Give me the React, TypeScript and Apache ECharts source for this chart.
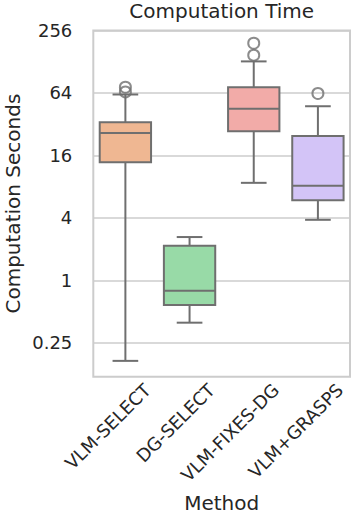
import React, { useEffect, useRef } from "react";
import * as echarts from "echarts";

const categories = ["VLM-SELECT", "DG-SELECT", "VLM-FIXES-DG", "VLM+GRASPS"];
// seconds
const lowWhisker = [0.168, 0.392, 8.72, 3.84];
const q1 = [13.8, 0.58, 27.4, 5.94];
const median = [26.4, 0.796, 45, 8.16];
const q3 = [33.5, 2.16, 72.7, 24.6];
const highWhisker = [61.9, 2.62, 129, 47.7];
const outliers: number[][] = [[72.7, 65.5], [], [193, 148], [63.3]];
const yTickValues = [0.25, 1, 4, 16, 64, 256];
const boxColors = ["#efb792", "#98daa7", "#f2aba8", "#d3c4f7"];

const EDGE = "#6f6f6f";
const TEXT = "#262626";
const FONT = "DejaVu Sans";

export default function App() {
  const ref = useRef<HTMLDivElement>(null);
  useEffect(() => {
    if (!ref.current) return;
    const chart = echarts.init(ref.current, undefined, { renderer: "svg" });
    const boxData = categories.map((_, i) => [
      i,
      Math.log2(lowWhisker[i]),
      Math.log2(q1[i]),
      Math.log2(median[i]),
      Math.log2(q3[i]),
      Math.log2(highWhisker[i]),
    ]);
    const outlierData: number[][] = [];
    outliers.forEach((arr, i) => arr.forEach((v) => outlierData.push([i, Math.log2(v)])));
    const tickLogs = yTickValues.map((v) => Math.log2(v));

    chart.setOption({
      animation: false,
      backgroundColor: "#ffffff",
      textStyle: { fontFamily: FONT },
      title: {
        text: "Computation Time",
        left: 221.7,
        textAlign: "center",
        top: 1,
        padding: 0,
        textStyle: { fontFamily: FONT, fontSize: 20, fontWeight: "normal", color: TEXT },
      },
      grid: {
        left: 93.3,
        right: 5,
        top: 30.5,
        bottom: 139.3,
        show: true,
        borderColor: "#cccccc",
        borderWidth: 2,
        backgroundColor: "#ffffff",
        containLabel: false,
        outerBoundsMode: "none",
      },
      xAxis: {
        type: "category",
        data: categories,
        boundaryGap: true,
        axisLine: { show: false },
        axisTick: { show: false },
        splitLine: { show: false },
        name: "Method",
        nameLocation: "middle",
        nameGap: 116,
        nameMoveOverlap: false,
        nameTextStyle: { fontFamily: FONT, fontSize: 20, color: TEXT },
        axisLabel: {
          interval: 0,
          rotate: 45,
          margin: 32,
          padding: [0, -31, 0, 0],
          fontFamily: FONT,
          fontSize: 18,
          color: TEXT,
        },
      },
      yAxis: {
        type: "value",
        min: -3.08,
        max: 8,
        axisLine: { show: false },
        axisTick: { show: false, customValues: tickLogs },
        splitLine: { show: true, lineStyle: { color: "#cccccc", width: 1.6 } },
        name: "Computation Seconds",
        nameLocation: "middle",
        nameGap: 70,
        nameRotate: 90,
        nameMoveOverlap: false,
        nameTextStyle: { fontFamily: FONT, fontSize: 20, color: TEXT },
        axisLabel: {
          customValues: tickLogs,
          margin: 21,
          fontFamily: FONT,
          fontSize: 18,
          color: TEXT,
          formatter: (v: number) => String(Math.round(Math.pow(2, v) * 100) / 100),
        },
      },
      series: [
        {
          type: "custom",
          data: boxData,
          encode: { x: 0, y: [1, 2, 3, 4, 5] },
          renderItem: (params: any, api: any) => {
            const i = api.value(0);
            const x = api.coord([i, 0])[0];
            const band = api.size([1, 0])[0];
            const w = band * 0.8;
            const cap = w / 2;
            const yLow = api.coord([i, api.value(1)])[1];
            const yQ1 = api.coord([i, api.value(2)])[1];
            const yMed = api.coord([i, api.value(3)])[1];
            const yQ3 = api.coord([i, api.value(4)])[1];
            const yHigh = api.coord([i, api.value(5)])[1];
            const ls = { stroke: EDGE, lineWidth: 2 };
            return {
              type: "group",
              children: [
                { type: "line", shape: { x1: x, y1: yLow, x2: x, y2: yQ1 }, style: ls },
                { type: "line", shape: { x1: x, y1: yQ3, x2: x, y2: yHigh }, style: ls },
                { type: "line", shape: { x1: x - cap / 2, y1: yLow, x2: x + cap / 2, y2: yLow }, style: ls },
                { type: "line", shape: { x1: x - cap / 2, y1: yHigh, x2: x + cap / 2, y2: yHigh }, style: ls },
                {
                  type: "rect",
                  shape: { x: x - w / 2, y: yQ3, width: w, height: yQ1 - yQ3 },
                  style: { fill: boxColors[i], stroke: EDGE, lineWidth: 2 },
                },
                { type: "line", shape: { x1: x - w / 2, y1: yMed, x2: x + w / 2, y2: yMed }, style: ls },
              ],
            };
          },
        },
        {
          type: "scatter",
          data: outlierData,
          symbol: "circle",
          symbolSize: 11,
          itemStyle: { color: "rgba(0,0,0,0)", borderColor: EDGE, borderWidth: 2 },
          z: 3,
        },
      ],
    });
    return () => chart.dispose();
  }, []);
  return (
    <div
      ref={ref}
      style={{ position: "fixed", left: 0, top: 0, width: 355, height: 516 }}
    />
  );
}
